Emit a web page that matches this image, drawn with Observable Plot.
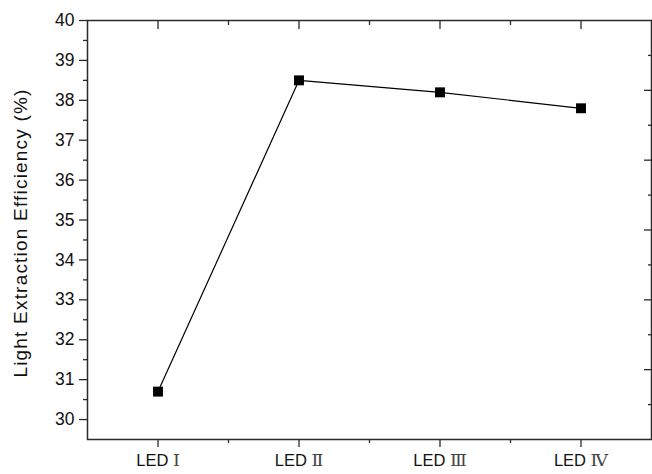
<!DOCTYPE html>
<html>
<head>
<meta charset="utf-8">
<script src="https://cdn.jsdelivr.net/npm/d3@7"></script>
<script src="https://cdn.jsdelivr.net/npm/@observablehq/plot@0.6"></script>
<style>
  html, body { margin: 0; padding: 0; background: #fff; }
</style>
</head>
<body>
<div id="chart"></div>
<script>
// ---- data ----
const categories = ["LED Ⅰ", "LED Ⅱ", "LED Ⅲ", "LED Ⅳ"];
const efficiency = [30.7, 38.5, 38.2, 37.8];
const yTicks = [30, 31, 32, 33, 34, 35, 36, 37, 38, 39, 40];
const yMinorTicks = [30.5, 31.5, 32.5, 33.5, 34.5, 35.5, 36.5, 37.5, 38.5, 39.5];
const xTicks = [1, 2, 3, 4];
const xMinorTicks = [1.5, 2.5, 3.5];
const rightTicks = [31.25, 33, 34.75, 36.5, 38.25];
const rightMinorTicks = [30.375, 32.125, 33.875, 35.625, 37.375, 39.125];
const yLabel = "Light Extraction Efficiency (%)";

const rows = categories.map((c, i) => ({idx: i + 1, cat: c, value: efficiency[i]}));
const axisColor = "#2a2a2a";

const chart = Plot.plot({
  width: 652,
  height: 474,
  marginLeft: 87,
  marginRight: 1,
  marginTop: 20,
  marginBottom: 35,
  style: {fontFamily: "'Liberation Sans', Arial, sans-serif", background: "#fff", color: "#111"},
  x: {type: "linear", domain: [0.5, 4.5]},
  y: {domain: [29.5, 40]},
  marks: [
    // left axis
    Plot.axisY({anchor: "left", ticks: yTicks, tickSize: 8, tickPadding: 5, fontSize: 17.5, label: null, stroke: axisColor, strokeWidth: 1.3, tickFormat: d => d}),
    Plot.axisY({anchor: "left", ticks: yMinorTicks, tickSize: 4, text: null, label: null, stroke: axisColor, strokeWidth: 1.3}),
    // right axis (inward, no labels)
    Plot.axisY({anchor: "right", ticks: rightTicks, tickSize: -8, text: null, label: null, stroke: axisColor, strokeWidth: 1.3}),
    Plot.axisY({anchor: "right", ticks: rightMinorTicks, tickSize: -4, text: null, label: null, stroke: axisColor, strokeWidth: 1.3}),
    // bottom axis
    Plot.axisX({anchor: "bottom", ticks: xTicks, tickSize: 8, tickPadding: 7, fontSize: 16.5, label: null, stroke: axisColor, strokeWidth: 1.3, tickFormat: i => categories[i - 1]}),
    Plot.axisX({anchor: "bottom", ticks: xMinorTicks, tickSize: 4, text: null, label: null, stroke: axisColor, strokeWidth: 1.3}),
    // top axis (inward)
    Plot.axisX({anchor: "top", ticks: xTicks, tickSize: -8, text: null, label: null, stroke: axisColor, strokeWidth: 1.3}),
    Plot.axisX({anchor: "top", ticks: xMinorTicks, tickSize: -4, text: null, label: null, stroke: axisColor, strokeWidth: 1.3}),
    Plot.frame({stroke: axisColor, strokeWidth: 1.5}),
    // y label
    Plot.text([yLabel], {frameAnchor: "left", rotate: -90, dx: -67, dy: 3, fontSize: 19, fill: "#111", textAnchor: "middle"}),
    // data
    Plot.line(rows, {x: "idx", y: "value", stroke: "#000", strokeWidth: 1.2}),
    Plot.dot(rows, {x: "idx", y: "value", symbol: "square", r: 5.6, fill: "#000", stroke: "none"})
  ]
});

// y label letter spacing
d3.select(chart).selectAll("text").filter(function() { return d3.select(this).text() === yLabel; })
  .attr("letter-spacing", "1.2px");

// Render Roman numerals in a serif face as in the original
d3.select(chart).selectAll('g[aria-label="x-axis tick label"] text').each(function() {
  const t = d3.select(this);
  const s = t.text();
  const parts = s.split(" ");
  t.text(null);
  t.append("tspan").text(parts[0] + " ");
  t.append("tspan").attr("font-family", "'DejaVu Serif', 'Liberation Serif', 'Noto Sans CJK SC', serif").attr("fill", "#444").attr("font-size", "17.5").text(parts.slice(1).join(" "));
});

document.getElementById("chart").appendChild(chart);
</script>
</body>
</html>
